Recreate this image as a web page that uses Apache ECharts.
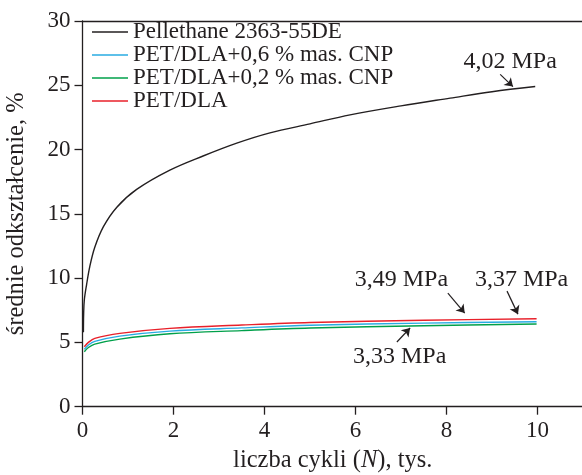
<!DOCTYPE html>
<html>
<head>
<meta charset="utf-8">
<script src="https://cdn.jsdelivr.net/npm/echarts@6/dist/echarts.min.js"></script>
<style>
  html, body { margin: 0; padding: 0; background: #fff; }
  #wykres { width: 582px; height: 475px; }
</style>
</head>
<body>
<div id="wykres"></div>
<script>
// cykle (tys.) i odkształcenie (%)
var xPellethane = [0.02, 0.025, 0.04, 0.09, 0.16, 0.27, 0.46, 0.75, 1.19, 1.92, 2.65, 3.39, 4.12, 5.0, 5.88, 7.0, 8.08, 9.0, 9.95];
var yPellethane = [5.8, 7.2, 8.3, 9.5, 10.9, 12.4, 14.0, 15.5, 16.9, 18.4, 19.5, 20.5, 21.3, 22.0, 22.7, 23.4, 24.0, 24.5, 24.9];

var xPet = [0.04, 0.13, 0.27, 0.82, 1.92, 3.5, 5.0, 7.5, 9.98];
var yPetCnp06 = [4.46, 4.8, 5.08, 5.49, 5.88, 6.13, 6.34, 6.50, 6.61];
var yPetCnp02 = [4.27, 4.6, 4.87, 5.26, 5.67, 5.92, 6.12, 6.30, 6.43];
var yPetDla = [4.66, 5.0, 5.31, 5.70, 6.09, 6.35, 6.55, 6.72, 6.84];

var nazwySerii = ['Pellethane 2363-55DE', 'PET/DLA+0,6 % mas. CNP', 'PET/DLA+0,2 % mas. CNP', 'PET/DLA'];
var koloryserii = ['#231f20', '#29abe2', '#00a04a', '#e8202a'];
var xTicks = [0, 2, 4, 6, 8, 10];

// opisy napięć: [tekst, x, y tekstu, strzałka od (x,y) do (x,y)]
var opisy = [
  ['4,02 MPa', 9.40, 26.8, 9.18, 25.85, 9.46, 24.9],
  ['3,49 MPa', 7.01, 9.85, 8.03, 8.83, 8.40, 7.28],
  ['3,37 MPa', 9.65, 9.85, 9.33, 8.99, 9.57, 7.2],
  ['3,33 MPa', 6.97, 3.86, 6.91, 5.03, 7.20, 6.12]
];

var font = '"Liberation Serif", "Times New Roman", serif';

function pary(xs, ys) {
  var out = [];
  for (var i = 0; i < xs.length; i++) out.push([xs[i], ys[i]]);
  return out;
}

function seriaLinii(idx, dane) {
  return {
    name: nazwySerii[idx],
    type: 'line',
    data: dane,
    symbol: 'none',
    smooth: 0.35,
    lineStyle: { color: koloryserii[idx], width: 1.4 },
    itemStyle: { color: koloryserii[idx] },
    z: 3
  };
}

var strzalki = opisy.map(function (o) {
  return [{ coord: [o[3], o[4]] }, { coord: [o[5], o[6]] }];
});
var etykiety = opisy.map(function (o) {
  return { coord: [o[1], o[2]], value: o[0] };
});

var myChart = echarts.init(document.getElementById('wykres'));
myChart.setOption({
  animation: false,
  textStyle: { fontFamily: font },
  grid: { left: 82.5, right: -1, top: 21, bottom: 68.3, outerBoundsMode: 'none', containLabel: false },
  legend: {
    data: nazwySerii,
    orient: 'vertical',
    left: 92,
    top: 20.5,
    padding: 0,
    itemGap: 0,
    icon: 'rect',
    itemWidth: 36,
    itemHeight: 1.4,
    textStyle: { fontFamily: font, fontSize: 23, color: '#231f20', lineHeight: 22.7 }
  },
  xAxis: [{
    type: 'value',
    min: 0,
    max: 11,
    interval: 2,
    name: 'liczba cykli ({i|N}), tys.',
    nameLocation: 'middle',
    nameGap: 38,
    nameTextStyle: {
      fontFamily: font, fontSize: 24.5, color: '#231f20',
      rich: { i: { fontFamily: font, fontSize: 24.5, fontStyle: 'italic', color: '#231f20' } }
    },
    axisLine: { lineStyle: { color: '#231f20', width: 1.3 } },
    axisTick: { show: true, length: 8, customValues: xTicks, lineStyle: { color: '#231f20', width: 1.3 } },
    axisLabel: { customValues: xTicks, margin: 13, fontFamily: font, fontSize: 23, color: '#231f20' },
    splitLine: { show: false }
  }, {
    type: 'value',
    position: 'top',
    min: 0,
    max: 11,
    axisLine: { show: true, onZero: false, lineStyle: { color: '#231f20', width: 1.3 } },
    axisTick: { show: false },
    axisLabel: { show: false },
    splitLine: { show: false }
  }],
  yAxis: {
    type: 'value',
    min: 0,
    max: 30,
    interval: 5,
    name: 'średnie odkształcenie, %',
    nameLocation: 'middle',
    nameGap: 53,
    nameTextStyle: { fontFamily: font, fontSize: 24.5, color: '#231f20' },
    axisLine: { show: true, lineStyle: { color: '#231f20', width: 1.3 } },
    axisTick: { show: true, length: 8, lineStyle: { color: '#231f20', width: 1.3 } },
    axisLabel: { margin: 12, fontFamily: font, fontSize: 23, color: '#231f20' },
    splitLine: { show: false }
  },
  series: [
    seriaLinii(0, pary(xPellethane, yPellethane)),
    seriaLinii(1, pary(xPet, yPetCnp06)),
    seriaLinii(2, pary(xPet, yPetCnp02)),
    seriaLinii(3, pary(xPet, yPetDla)),
    {
      name: 'opisy',
      type: 'line',
      data: [],
      silent: true,
      markLine: {
        silent: true,
        symbol: ['none', 'arrow'],
        symbolSize: 8,
        label: { show: false },
        lineStyle: { color: '#231f20', width: 1.2, type: 'solid' },
        itemStyle: { color: '#231f20' },
        data: strzalki
      },
      markPoint: {
        silent: true,
        symbol: 'rect',
        symbolSize: 1,
        itemStyle: { color: 'rgba(0,0,0,0)' },
        label: {
          show: true,
          position: 'inside',
          formatter: '{c}',
          fontFamily: font,
          fontSize: 24,
          color: '#231f20'
        },
        data: etykiety
      }
    }
  ]
});
</script>
</body>
</html>
